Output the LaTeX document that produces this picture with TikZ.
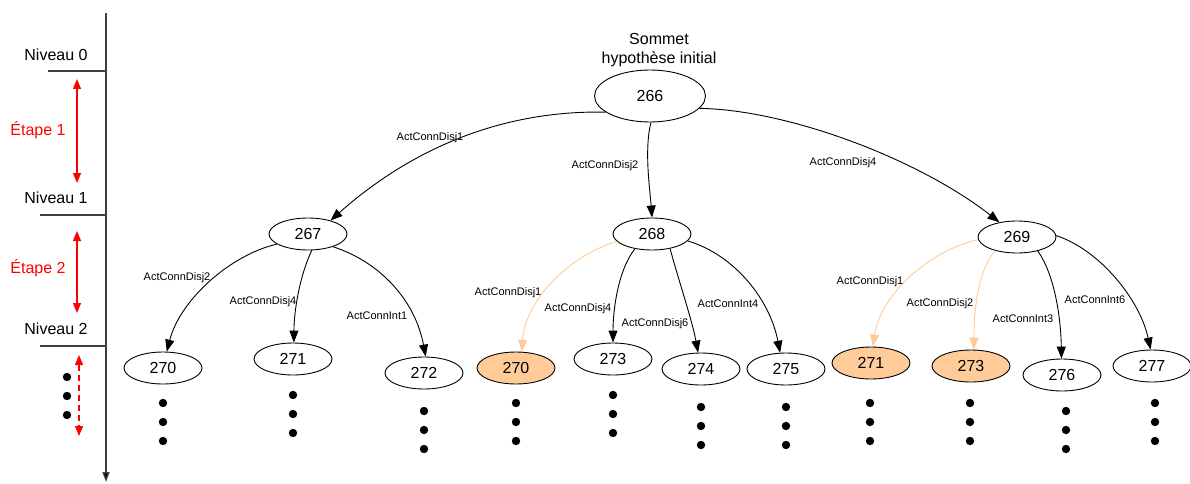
\documentclass[tikz,border=0pt]{standalone}
\usepackage{fontspec}
\setmainfont{Liberation Sans}
\usetikzlibrary{arrows.meta,shapes.geometric}
\definecolor{peach}{HTML}{FFCC99}
\definecolor{axisgray}{HTML}{404040}
\begin{document}
\begin{tikzpicture}[x=1pt,y=-1pt,
  every node/.style={font=\fontsize{16}{19}\selectfont},
  vtx/.style={ellipse,draw,line width=0.9pt,minimum width=78pt,minimum height=32pt,inner sep=0pt},
  hl/.style={vtx,fill=peach},
  lab/.style={font=\fontsize{11}{13}\selectfont,inner sep=0pt},
  conn/.style={line width=0.9pt,-{Triangle[length=12pt,width=9pt]}},
  oconn/.style={conn,draw=peach},
  redarr/.style={red,line width=1.2pt,{Triangle[length=10pt,width=8pt]}-{Triangle[length=10pt,width=8pt]}},
  lvl/.style={axisgray,line width=1.5pt},
  dot/.style={fill=black}
]
\useasboundingbox (0,0) rectangle (1190,484);

% left axis
\coordinate (axtop) at (106,13);
\coordinate (axbot) at (106,482);
\draw[axisgray,line width=1.3pt,-{Triangle[length=10pt,width=7pt,fill=black]}] (axtop) -- (axbot);
\coordinate (l0a) at (48,71);  \coordinate (l0b) at (106,71);
\coordinate (l1a) at (40,215); \coordinate (l1b) at (106,215);
\coordinate (l2a) at (40,346); \coordinate (l2b) at (106,346);
\draw[lvl] (l0a) -- (l0b);
\draw[lvl] (l1a) -- (l1b);
\draw[lvl] (l2a) -- (l2b);
\node (niv0) at (56,55) {Niveau 0};
\node (niv1) at (56,198) {Niveau 1};
\node (niv2) at (56,329) {Niveau 2};
\node[red] (et1) at (38,130) {Étape 1};
\node[red] (et2) at (38,268) {Étape 2};
\coordinate (e1a) at (77,79);  \coordinate (e1b) at (77,183);
\coordinate (e2a) at (77,231); \coordinate (e2b) at (77,313);
\coordinate (e3a) at (79,355); \coordinate (e3b) at (79,436);
\draw[redarr] (e1a) -- (e1b);
\draw[redarr] (e2a) -- (e2b);
\draw[redarr,dash pattern=on 6pt off 4pt] (e3a) -- (e3b);
\foreach \y in {377,396,415} \fill[dot] (67,\y) circle (4.2);

% tree nodes
\node[align=center] (title) at (659,50) {Sommet\\hypothèse initial};
\node[vtx,minimum width=111pt,minimum height=52pt] (n266) at (650,96) {266};
\node[vtx] (n267) at (308,234) {267};
\node[vtx] (n268) at (652,234) {268};
\node[vtx] (n269) at (1017,237) {269};
\node[vtx] (a270) at (163,368) {270};
\node[vtx] (a271) at (293,359) {271};
\node[vtx] (a272) at (424,373) {272};
\node[hl]  (b270) at (516,368) {270};
\node[vtx] (b273) at (613,359) {273};
\node[vtx] (b274) at (701,369) {274};
\node[vtx] (b275) at (786,369) {275};
\node[hl]  (c271) at (871,363) {271};
\node[hl]  (c273) at (971,366) {273};
\node[vtx] (c276) at (1062,375) {276};
\node[vtx] (c277) at (1152,366) {277};

% dots under leaves
\foreach \x/\y in {163/403,293/395,424/411,516/403,613/395,701/407,786/407,870/403,970/403,1066/411,1155/403}
  \foreach \d in {0,19,38} \fill[dot] (\x,\y+\d) circle (4.2);

% edges level 0 -> 1
\draw[conn] (n266.200) .. controls (500,110) and (410,150) .. (n267.31);
\draw[conn] (n266.272) .. controls (644,150) and (650,190) .. (n268.90);
\draw[conn] (n266.346) .. controls (790,110) and (920,160) .. (n269.140);

% edges 267
\draw[conn] (n267.198) .. controls (230,255) and (180,300) .. (a270.77);
\draw[conn] (n267.283) .. controls (300,275) and (294,310) .. (a271.87);
\draw[conn] (n267.333) .. controls (380,262) and (415,300) .. (a272.84);
% edges 268
\draw[oconn] (n268.192) .. controls (570,255) and (525,300) .. (b270.70);
\draw[conn] (n268.221) .. controls (618,270) and (613,310) .. (b273.90);
\draw[conn] (n268.321) .. controls (680,285) and (692,320) .. (b274.100);
\draw[conn] (n268.349) .. controls (735,255) and (770,300) .. (b275.110);
% edges 269
\draw[oconn] (n269.184) .. controls (930,250) and (880,295) .. (c271.83);
\draw[oconn] (n269.212) .. controls (978,270) and (974,310) .. (c273.80);
\draw[conn] (n269.326) .. controls (1055,275) and (1061,320) .. (c276.92);
\draw[conn] (n269.2) .. controls (1100,250) and (1140,300) .. (c277.95);

% labels
\node[lab] (t1) at (430,138) {ActConnDisj1};
\node[lab] (t2) at (605,166) {ActConnDisj2};
\node[lab] (t3) at (843,163) {ActConnDisj4};
\node[lab] (t4) at (177,278) {ActConnDisj2};
\node[lab] (t5) at (263,302) {ActConnDisj4};
\node[lab] (t6) at (377,316) {ActConnInt1};
\node[lab] (t7) at (508,293) {ActConnDisj1};
\node[lab] (t8) at (578,309) {ActConnDisj4};
\node[lab] (t9) at (655,324) {ActConnDisj6};
\node[lab] (t10) at (728,304) {ActConnInt4};
\node[lab] (t11) at (870,282) {ActConnDisj1};
\node[lab] (t12) at (940,304) {ActConnDisj2};
\node[lab] (t13) at (1023,319) {ActConnInt3};
\node[lab] (t14) at (1095,300) {ActConnInt6};
\end{tikzpicture}
\end{document}
